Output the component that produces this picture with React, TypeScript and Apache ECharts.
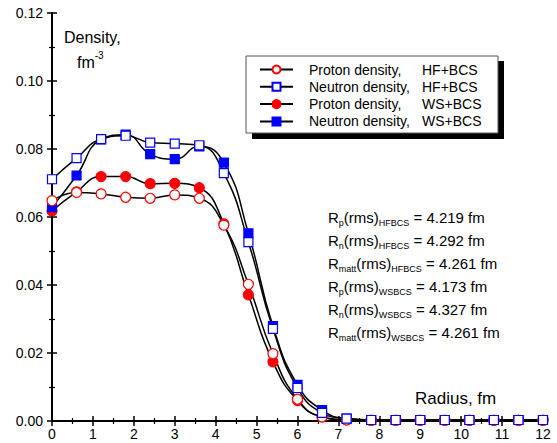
import React, { useEffect, useRef } from "react";
import * as echarts from "echarts";

const radius = [0, 0.6, 1.2, 1.8, 2.4, 3.0, 3.6, 4.2, 4.8, 5.4, 6.0, 6.6, 7.2, 7.8, 8.4, 9.0, 9.6, 10.2, 10.8, 11.4, 12.0];
const protonHF = [0.0648, 0.0672, 0.0668, 0.0658, 0.0655, 0.0665, 0.0655, 0.0576, 0.0402, 0.0198, 0.0064, 0.0012, 0.0003, 0.0002, 0.0002, 0.0002, 0.0002, 0.0002, 0.0002, 0.0002, 0.0002];
const neutronHF = [0.0711, 0.0773, 0.0829, 0.0839, 0.0819, 0.0816, 0.0811, 0.0729, 0.0526, 0.0271, 0.0097, 0.0024, 0.0007, 0.0003, 0.0003, 0.0003, 0.0003, 0.0003, 0.0003, 0.0003, 0.0003];
const protonWS = [0.0618, 0.0674, 0.0719, 0.0719, 0.0698, 0.0699, 0.0686, 0.0580, 0.0371, 0.0174, 0.0060, 0.0012, 0.0003, 0.0002, 0.0002, 0.0002, 0.0002, 0.0002, 0.0002, 0.0002, 0.0002];
const neutronWS = [0.0629, 0.0722, 0.0828, 0.0842, 0.0785, 0.0770, 0.0808, 0.0760, 0.0552, 0.0279, 0.0106, 0.0032, 0.0007, 0.0003, 0.0003, 0.0003, 0.0003, 0.0003, 0.0003, 0.0003, 0.0003];

const seriesNames = [
  "Proton density, HF+BCS",
  "Neutron density, HF+BCS",
  "Proton density, WS+BCS",
  "Neutron density, WS+BCS",
];

const rmsLines = [
  ["p", "HFBCS", "4.219"],
  ["n", "HFBCS", "4.292"],
  ["matt", "HFBCS", "4.261"],
  ["p", "WSBCS", "4.173"],
  ["n", "WSBCS", "4.327"],
  ["matt", "WSBCS", "4.261"],
];

const FONT = 'Arial, "Liberation Sans", sans-serif';

function pairs(vals: number[]) {
  return radius.map((r, i) => [r, vals[i]]);
}

export default function App() {
  const ref = useRef<HTMLDivElement>(null);
  useEffect(() => {
    if (!ref.current) return;
    const chart = echarts.init(ref.current, null, { renderer: "svg" });

    const mk = (name: string, vals: number[], symbol: string, size: number, fill: string, border: string) => ({
      name,
      type: "line",
      data: pairs(vals),
      smooth: 0.5,
      symbol,
      symbolSize: size,
      showAllSymbol: true,
      clip: false,
      lineStyle: { color: "#000", width: 1.5 },
      itemStyle: { color: fill, borderColor: border, borderWidth: 1.2 },
      emphasis: { disabled: true },
    });

    const subText = (sub: string, label: string, val: string) =>
      `{m|R}{s|${sub}}{m|(rms)}{s|${label}}{m| = ${val} fm}`;

    const axisCommon = {
      axisLine: { show: true, lineStyle: { color: "#000", width: 2 } },
      axisTick: { show: true, inside: true, length: 5, lineStyle: { color: "#000", width: 1.5 } },
      minorTick: { show: true, splitNumber: 2, length: 3, lineStyle: { color: "#000", width: 1.2 } },
      splitLine: { show: false },
    };

    chart.setOption({
      animation: false,
      backgroundColor: "#fff",
      grid: { left: 52, right: 14, top: 13, bottom: 22, containLabel: false },
      xAxis: [
        {
          type: "value",
          min: 0,
          max: 12,
          interval: 1,
          ...axisCommon,
          axisLabel: { color: "#000", fontSize: 14, fontFamily: FONT, margin: 6 },
        },
        {
          type: "value",
          position: "top",
          min: 0,
          max: 12,
          interval: 1,
          ...axisCommon,
          axisLabel: { show: false },
        },
      ],
      yAxis: [
        {
          type: "value",
          min: 0,
          max: 0.12,
          interval: 0.02,
          ...axisCommon,
          axisLabel: {
            color: "#000",
            fontSize: 14,
            fontFamily: FONT,
            margin: 9,
            formatter: (v: number) => v.toFixed(2),
          },
        },
        {
          type: "value",
          position: "right",
          min: 0,
          max: 0.12,
          interval: 0.02,
          ...axisCommon,
          axisLabel: { show: false },
        },
      ],
      legend: {
        orient: "vertical",
        left: 259,
        top: 61,
        z: 10,
        padding: 0,
        itemWidth: 33,
        itemHeight: 10,
        itemGap: 0.3,
        selectedMode: false,
        data: seriesNames,
        formatter: (name: string) => {
          const [a, b] = name.split(", ");
          return `{a|${a},}{b|${b}}`;
        },
        textStyle: {
          color: "#000",
          fontFamily: FONT,
          fontSize: 14,
          lineHeight: 17,
          padding: [0, 0, 0, 11],
          rich: {
            a: { width: 113, fontSize: 14, lineHeight: 17, fontFamily: FONT, color: "#000" },
            b: { fontSize: 14, lineHeight: 17, fontFamily: FONT, color: "#000" },
          },
        },
      },
      graphic: [
        { type: "rect", z: 5, shape: { x: 252, y: 61, width: 252, height: 78 }, style: { fill: "#000" } },
        {
          type: "rect",
          z: 6,
          shape: { x: 246, y: 56, width: 252, height: 77 },
          style: { fill: "#fff", stroke: "#555", lineWidth: 1 },
        },
        {
          type: "text",
          z: 6,
          x: 64,
          y: 29,
          style: { text: "Density,", fontSize: 16, fontFamily: FONT, fill: "#000" },
        },
        {
          type: "text",
          z: 6,
          x: 77,
          y: 50,
          style: {
            text: "{m|fm}{s|-3}",
            fontFamily: FONT,
            fill: "#000",
            rich: {
              m: { fontSize: 16, fontFamily: FONT, lineHeight: 20, verticalAlign: "bottom" },
              s: { fontSize: 10, fontFamily: FONT, lineHeight: 10, verticalAlign: "top" },
            },
          },
        },
        {
          type: "text",
          z: 6,
          x: 415,
          y: 390,
          style: { text: "Radius, fm", fontSize: 17, fontFamily: FONT, fill: "#000" },
        },
        ...rmsLines.map((l, i) => ({
          type: "text",
          z: 6,
          x: 328,
          y: 207 + i * 23,
          style: {
            text: subText(l[0], l[1], l[2]),
            fontFamily: FONT,
            fill: "#000",
            rich: {
              m: { fontSize: 15, fontFamily: FONT, lineHeight: 20, verticalAlign: "middle" },
              s: { fontSize: 9, fontFamily: FONT, lineHeight: 8, verticalAlign: "bottom" },
            },
          },
        })),
      ],
      series: [
        mk(seriesNames[2], protonWS, "circle", 10, "#ff0000", "#ff0000"),
        mk(seriesNames[3], neutronWS, "rect", 9, "#0000ff", "#0000ff"),
        mk(seriesNames[0], protonHF, "circle", 10, "#ffffff", "#ff0000"),
        mk(seriesNames[1], neutronHF, "rect", 9, "#ffffff", "#0000ff"),
      ],
    });

    return () => chart.dispose();
  }, []);

  return (
    <div
      ref={ref}
      style={{ position: "fixed", left: 0, top: 0, width: 557, height: 443, background: "#fff" }}
    />
  );
}
